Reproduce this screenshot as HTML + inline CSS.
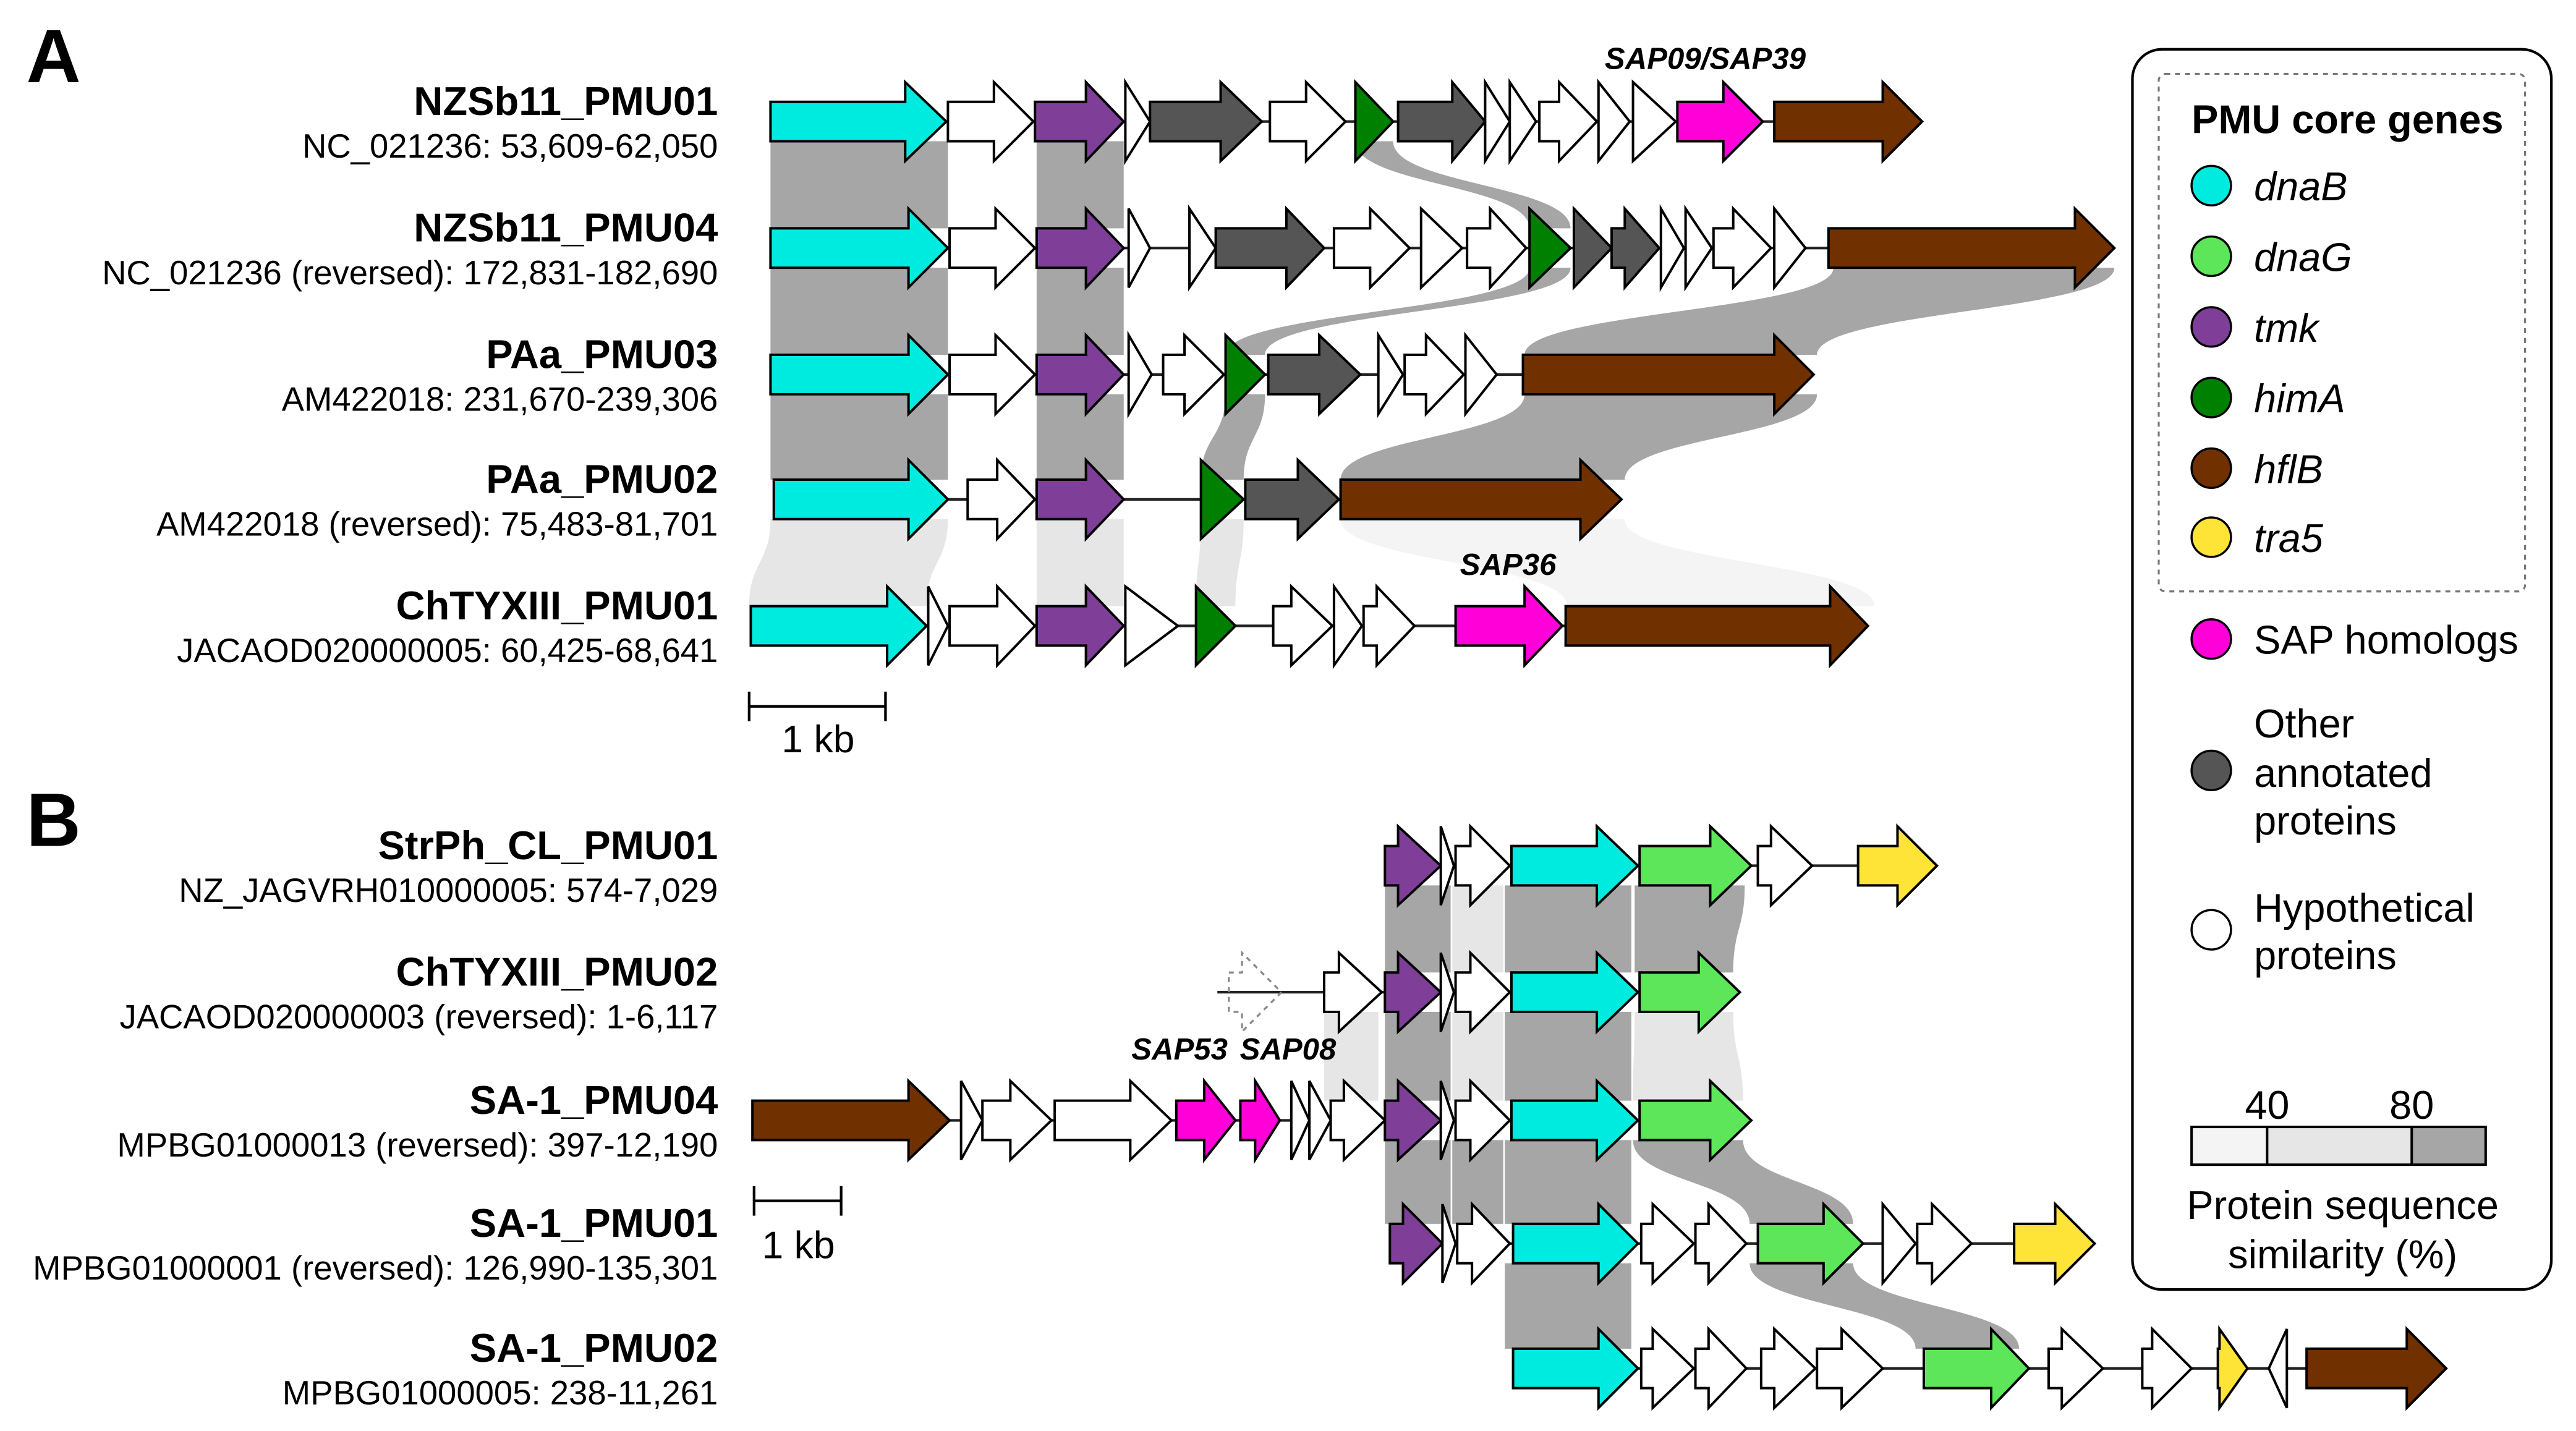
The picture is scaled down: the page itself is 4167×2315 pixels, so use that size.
<!DOCTYPE html>
<html><head><meta charset="utf-8">
<style>
html,body{margin:0;padding:0;background:#fff}
svg{display:block}
text{font-family:"Liberation Sans",Arial,sans-serif;fill:#000}
.nm{font-weight:bold;font-size:24.5px;text-anchor:end}
.ac{font-size:20.5px;text-anchor:end}
.sap{font-weight:bold;font-style:italic;font-size:18.5px;text-anchor:middle}
.lg{font-size:24.4px}
.it{font-style:italic}
</style></head><body>
<svg id="s" width="4167" height="2315" viewBox="0 0 1568 871.1" preserveAspectRatio="none" xmlns="http://www.w3.org/2000/svg">
<g id="bands"></g>
<g id="lines" stroke="#222" stroke-width="1.6"></g>
<g id="genes" stroke="#000" stroke-width="1.5" stroke-linejoin="miter"></g>

<text x="16" y="50" style="font-weight:bold;font-size:46px">A</text>
<text x="16" y="515" style="font-weight:bold;font-size:46px">B</text>

<text class="nm" x="437" y="70">NZSb11_PMU01</text><text class="ac" x="437" y="96">NC_021236: 53,609-62,050</text>
<text class="nm" x="437" y="147">NZSb11_PMU04</text><text class="ac" x="437" y="173">NC_021236 (reversed): 172,831-182,690</text>
<text class="nm" x="437" y="224">PAa_PMU03</text><text class="ac" x="437" y="250">AM422018: 231,670-239,306</text>
<text class="nm" x="437" y="300">PAa_PMU02</text><text class="ac" x="437" y="326">AM422018 (reversed): 75,483-81,701</text>
<text class="nm" x="437" y="377">ChTYXIII_PMU01</text><text class="ac" x="437" y="403">JACAOD020000005: 60,425-68,641</text>

<text class="nm" x="437" y="523">StrPh_CL_PMU01</text><text class="ac" x="437" y="549">NZ_JAGVRH010000005: 574-7,029</text>
<text class="nm" x="437" y="600">ChTYXIII_PMU02</text><text class="ac" x="437" y="626">JACAOD020000003 (reversed): 1-6,117</text>
<text class="nm" x="437" y="678">SA-1_PMU04</text><text class="ac" x="437" y="704">MPBG01000013 (reversed): 397-12,190</text>
<text class="nm" x="437" y="753">SA-1_PMU01</text><text class="ac" x="437" y="779">MPBG01000001 (reversed): 126,990-135,301</text>
<text class="nm" x="437" y="829">SA-1_PMU02</text><text class="ac" x="437" y="855">MPBG01000005: 238-11,261</text>

<text class="sap" x="1038" y="42">SAP09/SAP39</text>
<text class="sap" x="918" y="350">SAP36</text>
<text class="sap" x="718" y="645">SAP53</text>
<text class="sap" x="784" y="645">SAP08</text>

<g stroke="#000" stroke-width="1.6">
<line x1="456" y1="430" x2="539" y2="430"/><line x1="456" y1="421" x2="456" y2="439"/><line x1="539" y1="421" x2="539" y2="439"/>
<line x1="459" y1="731" x2="512" y2="731"/><line x1="459" y1="722" x2="459" y2="740"/><line x1="512" y1="722" x2="512" y2="740"/>
</g>
<text x="498" y="458" style="font-size:23.5px;text-anchor:middle">1 kb</text>
<text x="486" y="766" style="font-size:23.5px;text-anchor:middle">1 kb</text>

<!-- legend -->
<rect x="1298" y="30" width="255" height="755" rx="18" fill="#fff" stroke="#000" stroke-width="1.6"/>
<rect x="1314" y="45" width="223" height="315" rx="4" fill="none" stroke="#777" stroke-width="1.2" stroke-dasharray="3,3"/>
<text x="1334" y="81" style="font-weight:bold;font-size:24.4px">PMU core genes</text>
<g stroke="#000" stroke-width="1.3">
<circle cx="1346" cy="113" r="12" fill="#00ebe0"/>
<circle cx="1346" cy="156" r="12" fill="#5ee65a"/>
<circle cx="1346" cy="199" r="12" fill="#7f3f98"/>
<circle cx="1346" cy="242" r="12" fill="#008000"/>
<circle cx="1346" cy="285" r="12" fill="#703000"/>
<circle cx="1346" cy="327" r="12" fill="#ffe438"/>
<circle cx="1346" cy="389" r="12" fill="#ff00d8"/>
<circle cx="1346" cy="469" r="12" fill="#555"/>
<circle cx="1346" cy="566" r="12" fill="#fff"/>
</g>
<text class="lg it" x="1372" y="122">dnaB</text>
<text class="lg it" x="1372" y="165">dnaG</text>
<text class="lg it" x="1372" y="208">tmk</text>
<text class="lg it" x="1372" y="251">himA</text>
<text class="lg it" x="1372" y="294">hflB</text>
<text class="lg it" x="1372" y="336">tra5</text>
<text class="lg" x="1372" y="398">SAP homologs</text>
<text class="lg" x="1372" y="449">Other</text>
<text class="lg" x="1372" y="479">annotated</text>
<text class="lg" x="1372" y="508">proteins</text>
<text class="lg" x="1372" y="561">Hypothetical</text>
<text class="lg" x="1372" y="590">proteins</text>
<text class="lg" x="1380" y="681" text-anchor="middle">40</text>
<text class="lg" x="1468" y="681" text-anchor="middle">80</text>
<rect x="1334" y="686" width="46" height="23" fill="#f4f4f4"/>
<rect x="1380" y="686" width="88" height="23" fill="#e6e6e6"/>
<rect x="1468" y="686" width="45" height="23" fill="#a6a6a6"/>
<g stroke="#000" stroke-width="1.5" fill="none">
<rect x="1334" y="686" width="179" height="23"/>
<line x1="1380" y1="686" x2="1380" y2="709"/><line x1="1468" y1="686" x2="1468" y2="709"/>
</g>
<text class="lg" x="1426" y="742" text-anchor="middle">Protein sequence</text>
<text class="lg" x="1426" y="772" text-anchor="middle">similarity (%)</text>
</svg>
<script>
var NS="http://www.w3.org/2000/svg";
var C={c:"#00ebe0",p:"#7f3f98",g:"#555555",G:"#008000",b:"#703000",m:"#ff00d8",l:"#5ee65a",y:"#ffe438",w:"#ffffff"};
var D="#a6a6a6",L="#e6e6e6",V="#f4f4f4";
function el(t,a,p){var e=document.createElementNS(NS,t);for(var k in a)e.setAttribute(k,a[k]);document.getElementById(p).appendChild(e);return e;}
function row(y,genes,l0,l1){
 el("line",{x1:l0,y1:y,x2:l1,y2:y},"lines");
 genes.forEach(function(g){
  var x1=g[0],x2=g[1],h=g[2],f=C[g[3]],pts;
  if(g[4]=="L"){pts=[[x2,y-24],[x1,y],[x2,y+24]];}
  else if(h<=x1){pts=[[x1,y-24],[x2,y],[x1,y+24]];}
  else pts=[[x1,y-12],[h,y-12],[h,y-24],[x2,y],[h,y+24],[h,y+12],[x1,y+12]];
  var a={points:pts.map(function(p){return p.join(",")}).join(" "),fill:f};
  if(g[4]=="d"){a.fill="none";a.stroke="#888";a["stroke-dasharray"]="3,3";a["stroke-width"]="1.2";}
  el("polygon",a,"genes");
 });
}
function band(a1,a2,y1,b1,b2,y2,col){
 var m=(y1+y2)/2;
 var d="M"+a1+","+y1+" L"+a2+","+y1+" C"+a2+","+m+" "+b2+","+m+" "+b2+","+y2+" L"+b1+","+y2+" C"+b1+","+m+" "+a1+","+m+" "+a1+","+y1+"Z";
 el("path",{d:d,fill:col},"bands");
}
var A=[74,151,228,304,381];
band(469,577,A[0]+12,469,577,A[1]-12,D);band(631,684,A[0]+12,631,684,A[1]-12,D);band(825,848,A[0]+12,931,956,A[1]-12,D);
band(469,577,A[1]+12,469,577,A[2]-12,D);band(631,684,A[1]+12,631,684,A[2]-12,D);band(931,956,A[1]+12,746,770,A[2]-12,D);band(1116,1287,A[1]+12,928,1106,A[2]-12,D);
band(469,577,A[2]+12,469,577,A[3]-12,D);band(631,684,A[2]+12,631,684,A[3]-12,D);band(746,770,A[2]+12,731,757,A[3]-12,D);band(928,1106,A[2]+12,816,989,A[3]-12,D);
band(469,577,A[3]+12,456,564,A[4]-12,L);band(631,684,A[3]+12,631,684,A[4]-12,L);band(731,757,A[3]+12,728,752,A[4]-12,L);band(816,989,A[3]+12,954,1141,A[4]-12,V);
var B=[527,604,682,757,833];
band(843,883,B[0]+12,843,883,B[1]-12,D);band(884,915,B[0]+12,884,915,B[1]-12,L);band(916,993,B[0]+12,916,993,B[1]-12,D);band(995,1062,B[0]+12,995,1055,B[1]-12,D);
band(806,839,B[1]+12,806,839,B[2]-12,L);band(843,883,B[1]+12,843,883,B[2]-12,D);band(884,915,B[1]+12,884,915,B[2]-12,L);band(916,993,B[1]+12,916,993,B[2]-12,D);band(995,1055,B[1]+12,994,1061,B[2]-12,L);
band(843,883,B[2]+12,843,883,B[3]-12,D);band(884,915,B[2]+12,884,915,B[3]-12,D);band(916,993,B[2]+12,916,993,B[3]-12,D);band(994,1061,B[2]+12,1065,1128,B[3]-12,D);
band(916,993,B[3]+12,916,993,B[4]-12,D);band(1065,1128,B[3]+12,1166,1229,B[4]-12,D);

row(74,[[469,576,551,"c"],[577,629,605,"w"],[630,684,661,"p"],[685,700,685,"w"],[700,768,743,"g"],[773,819,795,"w"],[825,848,825,"G"],[851,904,884,"g"],[904,919,904,"w"],[919,935,919,"w"],[937,972,949,"w"],[973,992,973,"w"],[994,1020,994,"w"],[1021,1073,1049,"m"],[1080,1170,1146,"b"]],469,1170);
row(151,[[469,577,553,"c"],[578,630,606,"w"],[631,684,661,"p"],[687,700,687,"w"],[724,740,724,"w"],[740,806,783,"g"],[812,858,834,"w"],[865,890,865,"w"],[893,929,907,"w"],[931,956,931,"G"],[958,981,958,"g"],[981,1010,989,"g"],[1011,1025,1011,"w"],[1026,1042,1026,"w"],[1043,1078,1055,"w"],[1080,1099,1080,"w"],[1113,1287,1263,"b"]],469,1287);
row(228,[[469,577,553,"c"],[578,630,606,"w"],[631,684,661,"p"],[687,701,687,"w"],[708,745,721,"w"],[746,770,746,"G"],[772,828,803,"g"],[839,854,839,"w"],[855,891,868,"w"],[892,911,892,"w"],[927,1104,1080,"b"]],469,1104);
row(304,[[471,577,553,"c"],[589,630,607,"w"],[631,684,661,"p"],[731,757,731,"G"],[758,815,790,"g"],[816,987,962,"b"]],471,987);
row(381,[[457,564,540,"c"],[565,577,565,"w"],[578,630,607,"w"],[631,684,661,"p"],[685,717,685,"w"],[728,752,728,"G"],[775,811,786,"w"],[812,829,812,"w"],[830,861,838,"w"],[886,951,928,"m"],[953,1137,1114,"b"]],457,1137);

row(527,[[843,877,851,"p"],[877,885,877,"w"],[886,919,895,"w"],[920,997,972,"c"],[998,1066,1041,"l"],[1070,1103,1078,"w"],[1131,1179,1155,"y"]],843,1179);
row(604,[[748,780,756,"w","d"],[806,841,815,"w"],[843,877,851,"p"],[877,885,877,"w"],[886,919,895,"w"],[920,997,972,"c"],[998,1059,1034,"l"]],741,1059);
row(682,[[458,578,553,"b"],[585,598,585,"w"],[598,640,615,"w"],[642,713,688,"w"],[716,752,733,"m"],[755,779,764,"m"],[786,797,786,"w"],[797,810,797,"w"],[810,843,818,"w"],[843,877,851,"p"],[877,885,877,"w"],[886,919,895,"w"],[920,997,972,"c"],[998,1066,1041,"l"]],458,1066);
row(757,[[846,878,854,"p"],[878,886,878,"w"],[887,919,896,"w"],[921,997,973,"c"],[999,1031,1006,"w"],[1032,1063,1040,"w"],[1070,1134,1110,"l"],[1146,1166,1146,"w"],[1167,1200,1176,"w"],[1226,1275,1251,"y"]],846,1275);
row(833,[[921,997,973,"c"],[999,1031,1006,"w"],[1032,1063,1040,"w"],[1072,1105,1080,"w"],[1106,1146,1121,"w"],[1171,1235,1212,"l"],[1247,1280,1255,"w"],[1304,1334,1310,"w"],[1350,1368,1351,"y"],[1381,1392,0,"w","L"],[1404,1489,1465,"b"]],921,1489);
</script>
</body></html>
